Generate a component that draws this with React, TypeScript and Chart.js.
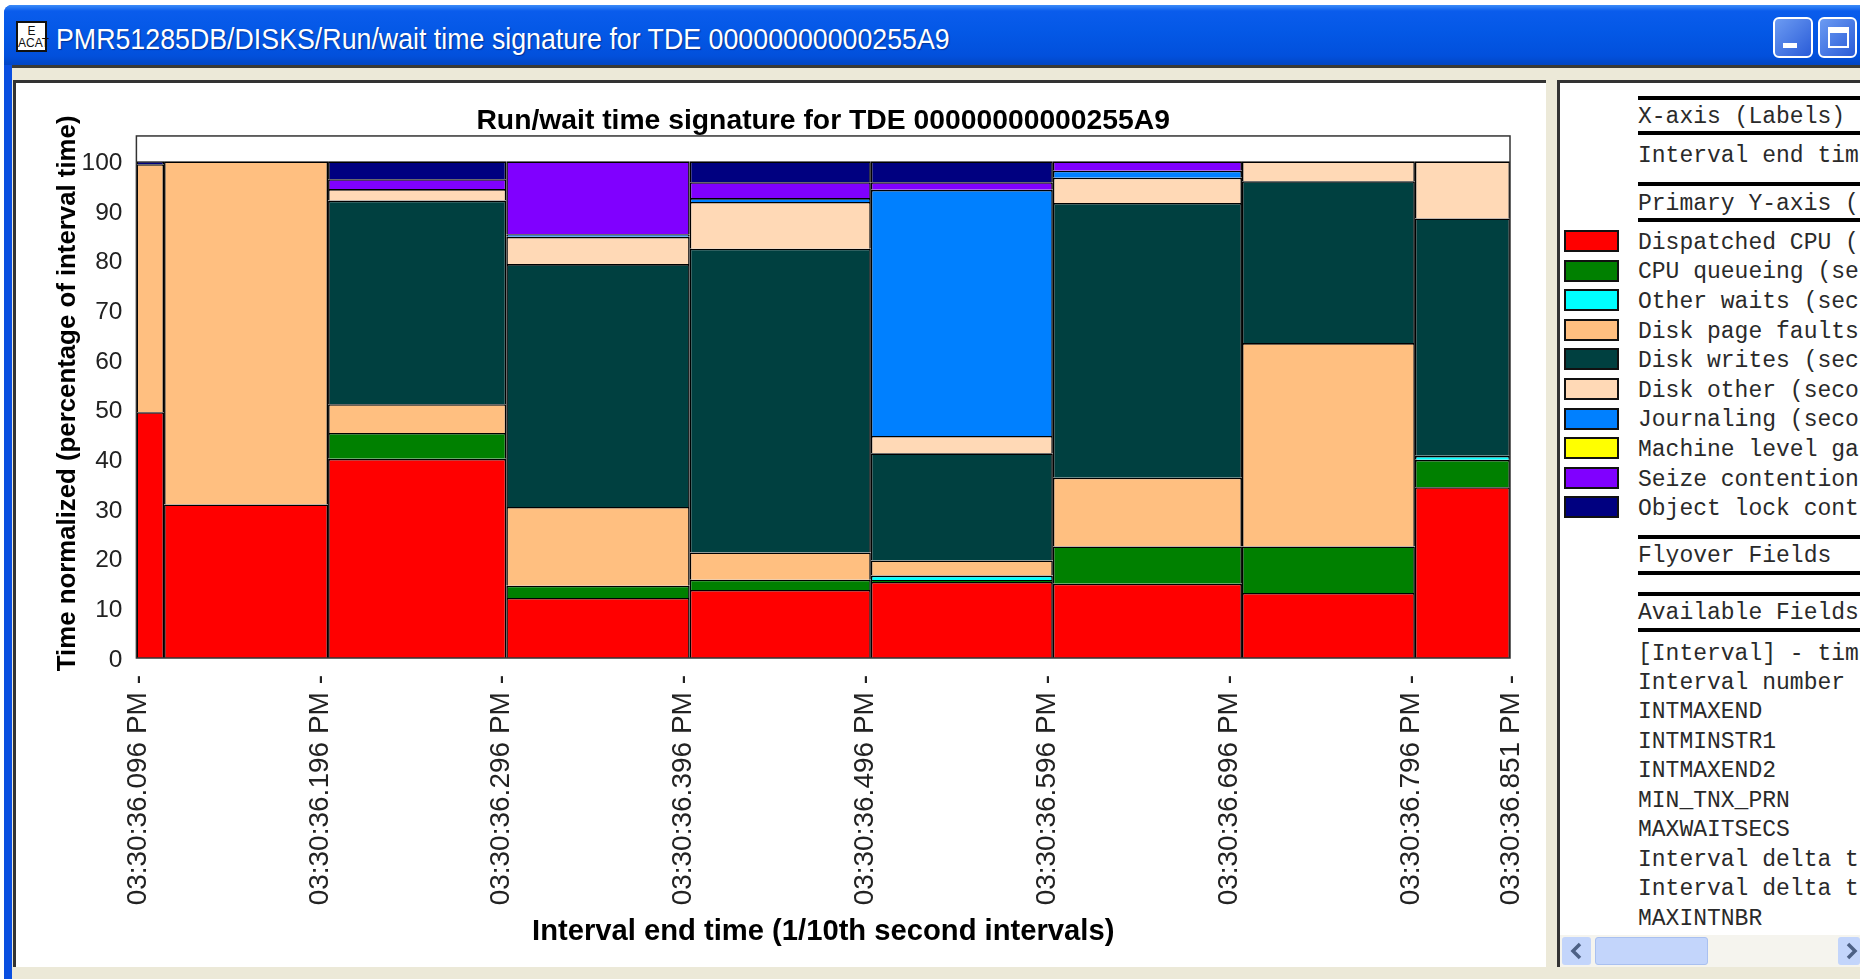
import React, { useEffect, useRef } from "react";
import { Chart, registerables } from "chart.js";

Chart.register(...registerables);

const chartTitle = "Run/wait time signature for TDE 00000000000255A9";
const windowTitle = "PMR51285DB/DISKS/Run/wait time signature for TDE 00000000000255A9";
const xTitle = "Interval end time (1/10th second intervals)";
const yTitle = "\u00A0Time normalized (percentage of interval time)";

// Seconds past 03:30:36 at which each interval starts / ends
const intervalEdges = [0.0951, 0.1103, 0.2005, 0.2985, 0.3994, 0.499, 0.5991, 0.7031, 0.7982, 0.8505];
const tickValues = [0.096, 0.196, 0.296, 0.396, 0.496, 0.596, 0.696, 0.796, 0.851];
const tickLabels = [
  "03:30:36.096 PM -", "03:30:36.196 PM -", "03:30:36.296 PM -", "03:30:36.396 PM -", "03:30:36.496 PM -",
  "03:30:36.596 PM -", "03:30:36.696 PM -", "03:30:36.796 PM -", "03:30:36.851 PM -",
];
const yTicks = [0, 10, 20, 30, 40, 50, 60, 70, 80, 90, 100];

const dispatchedCpu = [49.5, 30.9, 40.1, 12.1, 13.7, 15.3, 14.95, 13.1, 34.4];
const cpuQueueing = [0, 0, 5.2, 2.45, 2.05, 0.4, 7.5, 9.35, 5.5];
const otherWaits = [0, 0, 0, 0, 0, 0.9, 0, 0, 0.8];
const diskPageFaults = [49.9, 69.1, 5.8, 15.85, 5.5, 3.05, 13.85, 40.95, 0];
const diskWrites = [0, 0, 41, 48.9, 61.15, 21.55, 55.3, 32.6, 47.8];
const diskOther = [0, 0, 2.3, 5.5, 9.4, 3.5, 5.1, 4, 11.5];
const journaling = [0, 0, 0, 0.5, 0.8, 49.55, 1.4, 0, 0];
const machineGaps = [0, 0, 0, 0, 0, 0, 0, 0, 0];
const seizeContention = [0, 0, 2, 14.7, 3.2, 1.55, 1.9, 0, 0];
const objectLock = [0.6, 0, 3.6, 0, 4.2, 4.2, 0, 0, 0];

const seriesRows = [
  { label: "Dispatched CPU (", color: "#FF0000", values: dispatchedCpu },
  { label: "CPU queueing (se", color: "#008000", values: cpuQueueing },
  { label: "Other waits (sec", color: "#00FFFF", values: otherWaits },
  { label: "Disk page faults", color: "#FFBF80", values: diskPageFaults },
  { label: "Disk writes (sec", color: "#004040", values: diskWrites },
  { label: "Disk other (seco", color: "#FFD9B6", values: diskOther },
  { label: "Journaling (seco", color: "#0080FF", values: journaling },
  { label: "Machine level ga", color: "#FFFF00", values: machineGaps },
  { label: "Seize contention", color: "#8000FF", values: seizeContention },
  { label: "Object lock cont", color: "#000080", values: objectLock },
];

const availableFields = [
  "[Interval] - tim", "Interval number", "INTMAXEND", "INTMINSTR1", "INTMAXEND2",
  "MIN_TNX_PRN", "MAXWAITSECS", "Interval delta t", "Interval delta t", "MAXINTNBR",
];
const availableCenters = [654, 683, 712, 742, 771, 801, 830, 860, 889, 919];
const seriesCenters = [242.7, 272.3, 301.9, 331.5, 361, 390.7, 420.3, 449.9, 479.5, 509];
const headings = [
  { text: "X-axis (Labels)", y: 117 },
  { text: "Interval end tim", y: 156 },
  { text: "Primary Y-axis (", y: 204 },
  { text: "Flyover Fields", y: 556 },
  { text: "Available Fields", y: 613 },
];
const swatchCenters = [241, 270.6, 300.2, 329.8, 359.4, 389, 418.6, 448.2, 477.8, 507.4];
const ruleYs = [97.7, 133, 184, 220, 537, 572.7, 594, 630];

// Resizes each bar to span its own time interval on the x scale.
const intervalBars = {
  id: "intervalBars",
  afterDatasetsUpdate(chart: any) {
    const xs = chart.scales.x;
    chart.data.datasets.forEach((_: any, d: number) => {
      chart.getDatasetMeta(d).data.forEach((bar: any, i: number) => {
        const a = xs.getPixelForValue(intervalEdges[i]);
        const b = xs.getPixelForValue(intervalEdges[i + 1]);
        bar.x = (a + b) / 2;
        bar.width = b - a;
      });
    });
  },
};

const plotFrame = {
  id: "plotFrame",
  afterDraw(chart: any) {
    const { left, top, width, height } = chart.chartArea;
    const c = chart.ctx;
    c.save();
    c.strokeStyle = "#333";
    c.lineWidth = 1.5;
    c.strokeRect(left, top, width, height);
    c.restore();
  },
};

const mono: React.CSSProperties = {
  position: "absolute",
  left: 1638,
  height: 26,
  lineHeight: "26px",
  fontFamily: "'Liberation Mono', monospace",
  fontSize: 23,
  color: "#2a2a2a",
  whiteSpace: "pre",
};

export default function App() {
  const ref = useRef<HTMLCanvasElement | null>(null);
  useEffect(() => {
    const chart = new Chart(ref.current as HTMLCanvasElement, {
      type: "bar",
      plugins: [intervalBars, plotFrame],
      data: {
        datasets: seriesRows.map((s) => ({
          label: s.label,
          data: s.values.map((v, i) => ({ x: (intervalEdges[i] + intervalEdges[i + 1]) / 2, y: v })),
          backgroundColor: s.color,
          borderColor: "#000000",
          borderWidth: 1.6,
        })),
      },
      options: {
        animation: false,
        responsive: false,
        layout: { padding: { left: 30, right: 34, top: 0, bottom: 0 } },
        plugins: {
          legend: { display: false },
          tooltip: { enabled: false },
          title: {
            display: true,
            text: chartTitle,
            fullSize: false,
            color: "#000",
            font: { family: "'Liberation Sans'", size: 28.3, weight: "bold" },
            padding: { top: 22.5, bottom: -2.5 },
          },
        },
        scales: {
          x: {
            type: "linear",
            stacked: true,
            offset: false,
            min: intervalEdges[0],
            max: intervalEdges[intervalEdges.length - 1],
            grid: { display: false, drawTicks: false, offset: false },
            border: { display: false },
            afterBuildTicks: (axis: any) => {
              axis.ticks = tickValues.map((value) => ({ value }));
            },
            afterFit: (axis: any) => {
              axis.height = 308;
              axis.paddingLeft = 0;
              axis.paddingRight = 0;
            },
            ticks: {
              autoSkip: false,
              minRotation: 90,
              maxRotation: 90,
              padding: 17,
              color: "#222",
              font: { family: "'Liberation Sans'", size: 28 },
              callback: (_v: any, i: number) => tickLabels[i],
            },
            title: {
              display: true,
              text: xTitle,
              color: "#000",
              font: { family: "'Liberation Sans'", size: 29.2, weight: "bold" },
              padding: { top: 0, bottom: 17 },
            },
          },
          y: {
            type: "linear",
            stacked: true,
            min: 0,
            max: 105.1,
            grid: { display: false, drawTicks: false },
            border: { display: false },
            afterBuildTicks: (axis: any) => {
              axis.ticks = yTicks.map((value) => ({ value }));
            },
            afterFit: (axis: any) => {
              axis.width = 90.4;
              axis.paddingTop = 0;
              axis.paddingBottom = 0;
            },
            ticks: {
              padding: 14,
              labelOffset: 2,
              color: "#222",
              font: { family: "'Liberation Sans'", size: 24.5 },
            },
            title: {
              display: true,
              text: yTitle,
              color: "#000",
              font: { family: "'Liberation Sans'", size: 25.8, weight: "bold" },
              padding: { top: 6, bottom: 0 },
            },
          },
        },
      },
    } as any);
    return () => chart.destroy();
  }, []);

  return (
    <div style={{ position: "absolute", left: 0, top: 0, width: 1860, height: 979, overflow: "hidden", background: "#fff" }}>
      {/* Window frame */}
      <div style={{ position: "absolute", left: 4, top: 5, width: 1856, height: 974, background: "#0A4FE0", borderRadius: "8px 0 0 0" }} />
      <div
        style={{
          position: "absolute", left: 4, top: 5, width: 1856, height: 60, borderRadius: "8px 0 0 0",
          background: "linear-gradient(180deg,#3C8CF8 0%,#0A5CEC 10%,#0458E6 45%,#0250DC 85%,#0246C4 100%)",
        }}
      />
      <div style={{ position: "absolute", left: 12, top: 65, width: 1848, height: 914, background: "#ECE9D8" }} />
      <div style={{ position: "absolute", left: 12, top: 65, width: 1848, height: 3, background: "#3a3a36" }} />
      {/* Icon */}
      <div
        style={{
          position: "absolute", left: 16, top: 21, width: 31, height: 31, background: "#fff", border: "2px solid #111",
          boxSizing: "border-box", color: "#111", fontFamily: "'Liberation Sans'", fontSize: 12, lineHeight: "12px",
          textAlign: "center", paddingTop: 2,
        }}
      >
        E<br />ACAT
      </div>
      {/* Window title */}
      <div
        style={{
          position: "absolute", left: 56, top: 22, height: 34, lineHeight: "34px", color: "#fff",
          fontFamily: "'Liberation Sans'", fontSize: 29, whiteSpace: "pre",
          textShadow: "1px 1px 1px #02329a", transform: "scaleX(0.923)", transformOrigin: "left center",
        }}
      >
        {windowTitle}
      </div>
      {/* Window buttons */}
      <div style={{ position: "absolute", left: 1773, top: 17, width: 40, height: 41, boxSizing: "border-box", border: "2px solid #fff", borderRadius: 6, background: "linear-gradient(135deg,#6C9BF2,#2A5CD8)" }}>
        <div style={{ position: "absolute", left: 8, top: 24, width: 14, height: 5, background: "#fff" }} />
      </div>
      <div style={{ position: "absolute", left: 1818, top: 17, width: 39, height: 41, boxSizing: "border-box", border: "2px solid #fff", borderRadius: 6, background: "linear-gradient(135deg,#6C9BF2,#2A5CD8)" }}>
        <div style={{ position: "absolute", left: 8, top: 8, width: 21, height: 21, boxSizing: "border-box", border: "2px solid #fff", borderTopWidth: 6 }} />
      </div>
      {/* Chart panel */}
      <div style={{ position: "absolute", left: 13, top: 80, width: 1533, height: 887, boxSizing: "border-box", background: "#fff", borderLeft: "3px solid #333", borderTop: "3px solid #333" }} />
      <canvas ref={ref} width={1528} height={884} style={{ position: "absolute", left: 16, top: 82, width: 1528, height: 884 }} />
      {/* Right panel */}
      <div style={{ position: "absolute", left: 1557, top: 80, width: 303, height: 887, boxSizing: "border-box", background: "#fff", borderLeft: "3px solid #333", borderTop: "3px solid #333" }} />
      {ruleYs.map((y, i) => (
        <div key={i} style={{ position: "absolute", left: 1638, top: y - 2, width: 222, height: 4, background: "#000" }} />
      ))}
      {headings.map((h, i) => (
        <div key={i} style={{ ...mono, top: h.y - 13 }}>{h.text}</div>
      ))}
      {seriesRows.map((s, i) => (
        <React.Fragment key={s.label}>
          <div style={{ position: "absolute", left: 1564, top: swatchCenters[i] - 11, width: 55, height: 22, boxSizing: "border-box", background: s.color, border: "2px solid #111" }} />
          <div style={{ ...mono, top: seriesCenters[i] - 13 }}>{s.label}</div>
        </React.Fragment>
      ))}
      {availableFields.map((t, i) => (
        <div key={i} style={{ ...mono, top: availableCenters[i] - 13 }}>{t}</div>
      ))}
      {/* Scroll bar */}
      <div style={{ position: "absolute", left: 1560, top: 935, width: 300, height: 32, background: "#F5F4EE" }} />
      <div style={{ position: "absolute", left: 1562, top: 937, width: 29, height: 28, background: "#C3D5FB", borderRadius: 3 }}>
        <svg width="29" height="28"><polyline points="18,7 11,14 18,21" fill="none" stroke="#4d6185" strokeWidth="3.5" /></svg>
      </div>
      <div style={{ position: "absolute", left: 1595, top: 937, width: 113, height: 28, background: "#C3D5FB", borderRadius: 3, boxSizing: "border-box", border: "1px solid #A9C0F0" }} />
      <div style={{ position: "absolute", left: 1838, top: 937, width: 22, height: 28, background: "#C3D5FB", borderRadius: 3 }}>
        <svg width="22" height="28"><polyline points="10,7 17,14 10,21" fill="none" stroke="#4d6185" strokeWidth="3.5" /></svg>
      </div>
    </div>
  );
}
